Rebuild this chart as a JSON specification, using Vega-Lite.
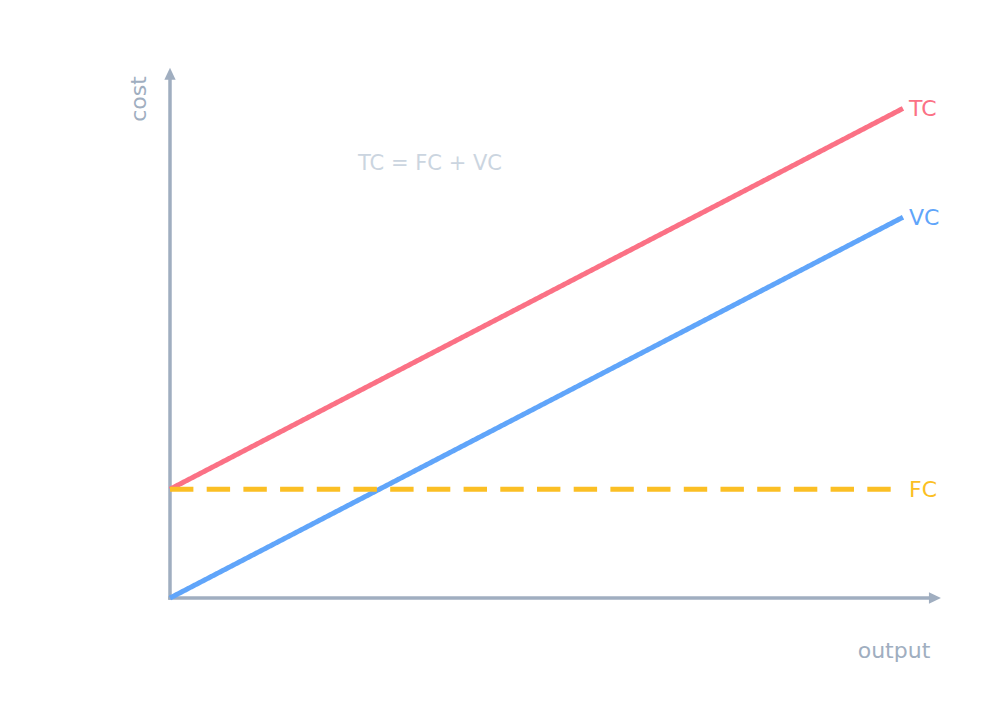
{
  "$schema": "https://vega.github.io/schema/vega-lite/v6.json",
  "autosize": "none",
  "width": 996,
  "height": 726,
  "padding": 0,
  "background": "white",
  "config": {"view": {"stroke": null}, "font": "DejaVu Sans"},
  "encoding": {
    "x": {"field": "q", "type": "quantitative", "axis": null, "scale": {"domain": [-2.3192, 11.2688], "nice": false, "zero": false}},
    "y": {"field": "c", "type": "quantitative", "axis": null, "scale": {"domain": [-2.353, 10.993], "nice": false, "zero": false}}
  },
  "layer": [
    {
      "data": {"values": [
        {"q": 0, "c": 0, "q2": 10.436, "c2": 0},
        {"q": 0, "c": 0, "q2": 0, "c2": 9.638}
      ]},
      "mark": {"type": "rule", "stroke": "#a0aec0", "strokeWidth": 3.5, "strokeCap": "square"},
      "encoding": {"x2": {"field": "q2"}, "y2": {"field": "c2"}}
    },
    {
      "data": {"values": [
        {"q": 10.436, "c": 0, "shape": "M1,0L-1,-0.94L-1,0.94Z"},
        {"q": 0, "c": 9.638, "shape": "M0,-1L0.94,1L-0.94,1Z"}
      ]},
      "mark": {"type": "point", "filled": true, "size": 144, "color": "#a0aec0", "opacity": 1},
      "encoding": {"shape": {"field": "shape", "type": "nominal", "scale": null}}
    },
    {
      "data": {"values": [
        {"series": "TC", "q": 0, "c": 2},
        {"series": "TC", "q": 10, "c": 9},
        {"series": "VC", "q": 0, "c": 0},
        {"series": "VC", "q": 10, "c": 7},
        {"series": "FC", "q": 0, "c": 2},
        {"series": "FC", "q": 10, "c": 2}
      ]},
      "mark": {"type": "line", "strokeWidth": 5, "strokeCap": "butt"},
      "encoding": {
        "color": {"field": "series", "type": "nominal", "legend": null, "scale": {"domain": ["TC", "VC", "FC"], "range": ["#fb7185", "#60a5fa", "#fbbf24"]}},
        "strokeDash": {"field": "series", "type": "nominal", "legend": null, "scale": {"domain": ["TC", "VC", "FC"], "range": [[1, 0], [1, 0], [23.4, 13.3]]}}
      }
    },
    {
      "data": {"values": [
        {"series": "TC", "q": 10, "c": 9},
        {"series": "VC", "q": 10, "c": 7},
        {"series": "FC", "q": 10, "c": 2}
      ]},
      "mark": {"type": "text", "align": "left", "baseline": "middle", "dx": 6, "dy": 1, "fontSize": 22},
      "encoding": {
        "text": {"field": "series"},
        "color": {"field": "series", "type": "nominal", "legend": null, "scale": {"domain": ["TC", "VC", "FC"], "range": ["#fb7185", "#60a5fa", "#fbbf24"]}}
      }
    },
    {
      "data": {"values": [
        {"label": "output", "q": 9.877, "c": -0.974}
      ]},
      "mark": {"type": "text", "align": "center", "baseline": "middle", "fontSize": 22, "color": "#a0aec0"},
      "encoding": {"text": {"field": "label"}}
    },
    {
      "data": {"values": [
        {"label": "cost", "q": -0.423, "c": 9.173}
      ]},
      "mark": {"type": "text", "align": "center", "baseline": "middle", "fontSize": 22, "angle": 270, "color": "#a0aec0"},
      "encoding": {"text": {"field": "label"}}
    },
    {
      "data": {"values": [
        {"label": "TC = FC + VC", "q": 2.565, "c": 7.978}
      ]},
      "mark": {"type": "text", "align": "left", "baseline": "middle", "fontSize": 21, "color": "#cbd5e0"},
      "encoding": {"text": {"field": "label"}}
    }
  ]
}
